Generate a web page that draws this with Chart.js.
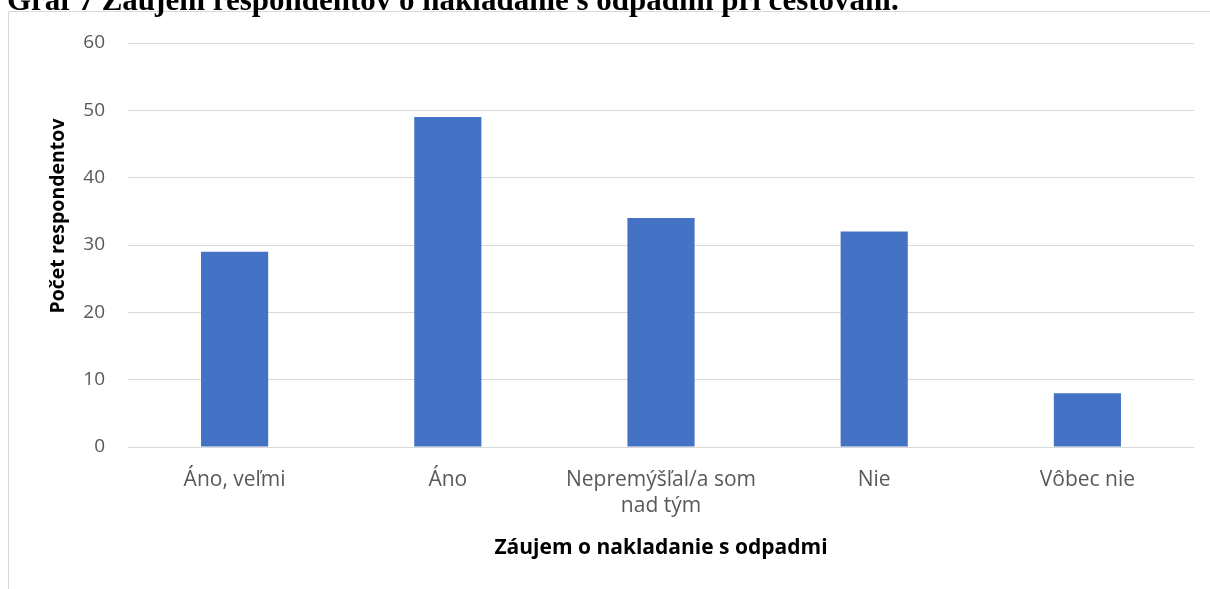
<!DOCTYPE html>
<html>
<head>
<meta charset="utf-8">
<script src="https://cdn.jsdelivr.net/npm/chart.js@4.4.0/dist/chart.umd.min.js"></script>
<style>
  html, body { margin: 0; padding: 0; background: #fff; }
  #wrap { position: relative; width: 1210px; height: 589px; overflow: hidden; }
</style>
</head>
<body>
<div id="wrap"><canvas id="chart" width="1210" height="589"></canvas></div>
<script>
// chart data
const categories = ['Áno, veľmi', 'Áno', ['Nepremýšľal/a som', 'nad tým'], 'Nie', 'Vôbec nie'];
const respondents = [29, 49, 34, 32, 8];
const yTicks = [0, 10, 20, 30, 40, 50, 60];

const pageTitle = 'Graf 7 Záujem respondentov o nakladanie s odpadmi pri cestovaní.';
const xTitle = 'Záujem o nakladanie s odpadmi';
const yTitle = 'Počet respondentov';

const labelFont = '"Open Sans", sans-serif';

// frame, page title and axis titles
const decor = {
  id: 'decor',
  beforeDraw(chart) {
    const ctx = chart.ctx;
    ctx.save();
    ctx.fillStyle = '#fff';
    ctx.fillRect(0, 0, chart.width, chart.height);
    ctx.strokeStyle = '#d9d9d9';
    ctx.lineWidth = 1;
    ctx.beginPath();
    ctx.moveTo(8.5, chart.height);
    ctx.lineTo(8.5, 11.5);
    ctx.lineTo(chart.width, 11.5);
    ctx.stroke();
    ctx.restore();
  },
  afterDraw(chart) {
    const ctx = chart.ctx;
    const area = chart.chartArea;
    ctx.save();
    ctx.fillStyle = '#000';
    ctx.font = 'bold 31px "Liberation Serif", serif';
    ctx.textAlign = 'left';
    ctx.textBaseline = 'alphabetic';
    ctx.fillText(pageTitle, 7, 10);

    ctx.font = 'bold 21px ' + labelFont;
    ctx.textAlign = 'center';
    ctx.textBaseline = 'middle';
    ctx.fillText(xTitle, (area.left + area.right) / 2, 548);

    ctx.font = 'bold 19.5px ' + labelFont;
    ctx.translate(58, 216);
    ctx.rotate(-Math.PI / 2);
    ctx.fillText(yTitle, 0, 0);
    ctx.restore();
  }
};

new Chart(document.getElementById('chart'), {
  type: 'bar',
  data: {
    labels: categories,
    datasets: [{
      label: yTitle,
      data: respondents,
      backgroundColor: '#4472c4',
      barPercentage: 0.45,
      categoryPercentage: 0.7
    }]
  },
  options: {
    responsive: false,
    animation: false,
    layout: { padding: { left: 0, right: 16, top: 43, bottom: 0 } },
    plugins: {
      legend: { display: false },
      tooltip: { enabled: false }
    },
    scales: {
      x: {
        grid: { display: false },
        border: { display: false },
        ticks: {
          color: '#595959',
          font: { family: labelFont, size: 21, lineHeight: 1.25 },
          padding: 12,
          maxRotation: 0,
          autoSkip: false
        },
        afterFit(scale) { scale.height = 142; }
      },
      y: {
        min: 0,
        max: 60,
        afterBuildTicks(scale) { scale.ticks = yTicks.map(v => ({ value: v })); },
        grid: { color: '#d9d9d9', drawTicks: false },
        border: { display: false },
        ticks: {
          color: '#595959',
          font: { family: labelFont, size: 19 },
          padding: 23
        },
        afterFit(scale) { scale.width = 128; }
      }
    }
  },
  plugins: [decor]
});
</script>
</body>
</html>
